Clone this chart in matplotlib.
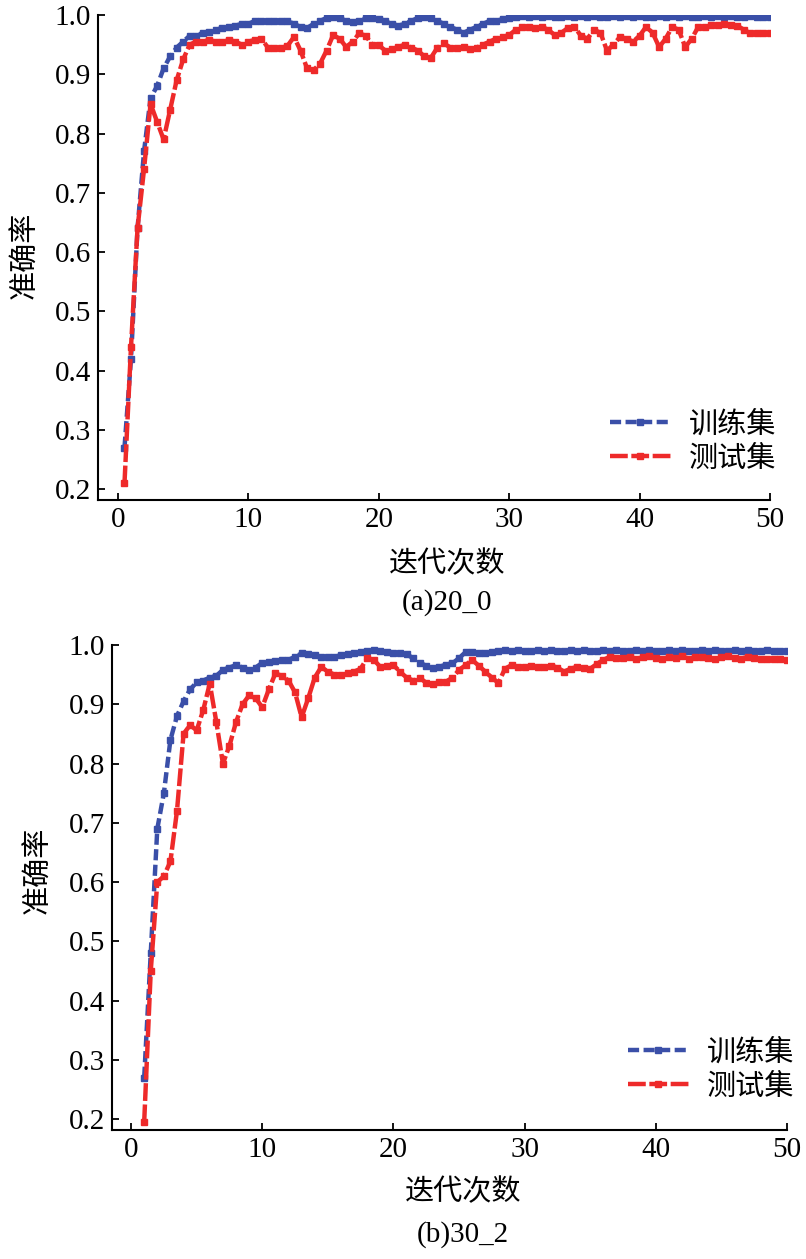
import numpy as np
from matplotlib import pyplot as plt

plt.rcParams['font.family'] = ['Liberation Serif', 'Noto Sans CJK SC']
plt.rcParams['axes.unicode_minus'] = False

# (a)20_0 : 每 0.5 个迭代一个点
x_a = np.arange(1, 101) * 0.5
train_a = [0.27, 0.42, 0.64, 0.77, 0.86, 0.88, 0.91, 0.93, 0.945, 0.955,
           0.965, 0.965, 0.97, 0.972, 0.975, 0.978, 0.98, 0.982, 0.985, 0.985,
           0.99, 0.99, 0.99, 0.99, 0.99, 0.99, 0.985, 0.98, 0.978, 0.985,
           0.99, 0.995, 0.997, 0.995, 0.99, 0.988, 0.99, 0.995, 0.995, 0.994,
           0.99, 0.985, 0.982, 0.985, 0.99, 0.995, 0.997, 0.995, 0.99, 0.985,
           0.98, 0.975, 0.97, 0.975, 0.98, 0.985, 0.99, 0.99, 0.993, 0.995,
           0.997, 0.998, 0.997, 0.998, 0.997, 0.998, 0.997, 0.997, 0.998, 0.997,
           0.998, 0.997, 0.998, 0.997, 0.997, 0.998, 0.997, 0.998, 0.997, 0.998,
           0.997, 0.997, 0.998, 0.997, 0.998, 0.997, 0.998, 0.997, 0.997, 0.998,
           0.997, 0.998, 0.997, 0.998, 0.997, 0.997, 0.998, 0.997, 0.997, 0.997]
test_a = [0.21, 0.44, 0.64, 0.74, 0.85, 0.82, 0.79, 0.84, 0.89, 0.925,
          0.95, 0.955, 0.955, 0.958, 0.955, 0.955, 0.958, 0.955, 0.95, 0.955,
          0.958, 0.96, 0.945, 0.944, 0.944, 0.948, 0.963, 0.94, 0.91, 0.907,
          0.918, 0.94, 0.966, 0.96, 0.946, 0.955, 0.969, 0.965, 0.95, 0.949,
          0.94, 0.942, 0.946, 0.95, 0.945, 0.94, 0.93, 0.928, 0.945, 0.952,
          0.945, 0.945, 0.946, 0.942, 0.945, 0.95, 0.955, 0.96, 0.963, 0.966,
          0.975, 0.98, 0.98, 0.978, 0.98, 0.975, 0.966, 0.97, 0.978, 0.98,
          0.965, 0.96, 0.975, 0.97, 0.94, 0.95, 0.963, 0.96, 0.955, 0.965,
          0.98, 0.97, 0.946, 0.96, 0.98, 0.975, 0.946, 0.96, 0.98, 0.98,
          0.983, 0.983, 0.985, 0.983, 0.982, 0.975, 0.969, 0.969, 0.97, 0.969]

# (b)30_2 : 从第 1 次开始
x_b = np.arange(2, 101) * 0.5
train_b = [0.27, 0.48, 0.69, 0.75, 0.84, 0.88, 0.905, 0.925, 0.937, 0.94,
           0.945, 0.948, 0.958, 0.962, 0.966, 0.962, 0.958, 0.962, 0.97, 0.972,
           0.973, 0.975, 0.975, 0.98, 0.986, 0.985, 0.983, 0.98, 0.98, 0.98,
           0.983, 0.985, 0.986, 0.988, 0.99, 0.991, 0.99, 0.988, 0.986, 0.986,
           0.984, 0.978, 0.97, 0.965, 0.961, 0.963, 0.967, 0.969, 0.978, 0.988,
           0.988, 0.986, 0.986, 0.988, 0.99,
           0.991, 0.99, 0.991, 0.99, 0.99, 0.991, 0.99, 0.991, 0.99, 0.99,
           0.991, 0.99, 0.991, 0.99, 0.99, 0.991, 0.99, 0.991, 0.99, 0.99,
           0.991, 0.99, 0.991, 0.99, 0.99, 0.991, 0.99, 0.991, 0.99, 0.99,
           0.991, 0.99, 0.991, 0.99, 0.99, 0.991, 0.99, 0.991, 0.99, 0.99,
           0.991, 0.99, 0.99, 0.99]
test_b = [0.195, 0.45, 0.6, 0.61, 0.635, 0.72, 0.85, 0.865, 0.856, 0.89,
          0.935, 0.87, 0.8, 0.83, 0.87, 0.9, 0.915, 0.91, 0.895, 0.925,
          0.952, 0.948, 0.94, 0.92, 0.878, 0.91, 0.945, 0.963, 0.955, 0.95,
          0.949, 0.952, 0.955, 0.96, 0.978, 0.975, 0.963, 0.965, 0.966, 0.955,
          0.945, 0.94, 0.945, 0.936, 0.935, 0.937, 0.938, 0.945, 0.958, 0.966,
          0.975, 0.965, 0.955, 0.945, 0.936, 0.96, 0.966, 0.963, 0.963, 0.965,
          0.963, 0.963, 0.965, 0.962, 0.955, 0.96, 0.963, 0.962, 0.96, 0.968,
          0.975, 0.98, 0.978,
          0.978, 0.98, 0.977, 0.979, 0.982, 0.978, 0.976, 0.98, 0.978, 0.981,
          0.977, 0.979, 0.98, 0.978, 0.976, 0.979, 0.981, 0.978, 0.977, 0.98,
          0.978, 0.976, 0.977, 0.976, 0.976, 0.975]

xticks = [0, 10, 20, 30, 40, 50]
yticks = [0.2, 0.3, 0.4, 0.5, 0.6, 0.7, 0.8, 0.9, 1.0]
labels = ['训练集', '测试集']
blue = '#3a4fa8'
red = '#ee2a2a'

fig = plt.figure(figsize=(8.06, 12.59), dpi=100)
ax_a = fig.add_axes([0.1216, 0.6029, 0.8337, 0.3852])
ax_b = fig.add_axes([0.1390, 0.1025, 0.8375, 0.3852])


def draw(ax, x, train, test, xlim, caption, leg_pos, ylab_pos, xlab_y, cap_y):
    ax.plot(x, train, color=blue, ls='--', lw=3.2, marker='s', ms=4.5,
            dashes=(2.5, 1.0), label=labels[0])
    ax.plot(x, test, color=red, ls='--', lw=3.2, marker='s', ms=4.5,
            dashes=(4, 0.8), label=labels[1])
    ax.set_xlim(*xlim)
    ax.set_ylim(0.182, 1.0)
    ax.set_xticks(xticks)
    ax.set_yticks(yticks)
    ax.set_yticklabels([f'{v:.1f}' for v in yticks])
    for s in ['top', 'right']:
        ax.spines[s].set_visible(False)
    for s in ['left', 'bottom']:
        ax.spines[s].set_linewidth(1.5)
    ax.tick_params(direction='in', length=5, width=1.3, labelsize=21, pad=5)
    ax.set_ylabel('准确率', fontsize=21)
    ax.yaxis.set_label_coords(*ylab_pos)
    ax.set_xlabel('迭代次数', fontsize=21)
    ax.xaxis.set_label_coords(0.52, xlab_y)
    ax.text(0.52, cap_y, caption, transform=ax.transAxes, fontsize=21,
            ha='center', va='center')
    ax.legend(loc='center', bbox_to_anchor=leg_pos, frameon=False, fontsize=21,
              handlelength=2.1, handletextpad=0.6, labelspacing=0.25,
              borderaxespad=0)


draw(ax_a, x_a, train_a, test_a, (-1.53, 50), '(a)20_0',
     (0.885, 0.12), (-0.087, 0.505), -0.105, -0.212)
draw(ax_b, x_b, train_b, test_b, (-1.45, 50), '(b)30_2',
     (0.887, 0.124), (-0.089, 0.536), -0.101, -0.216)

fig.savefig('out.png', dpi=100)
